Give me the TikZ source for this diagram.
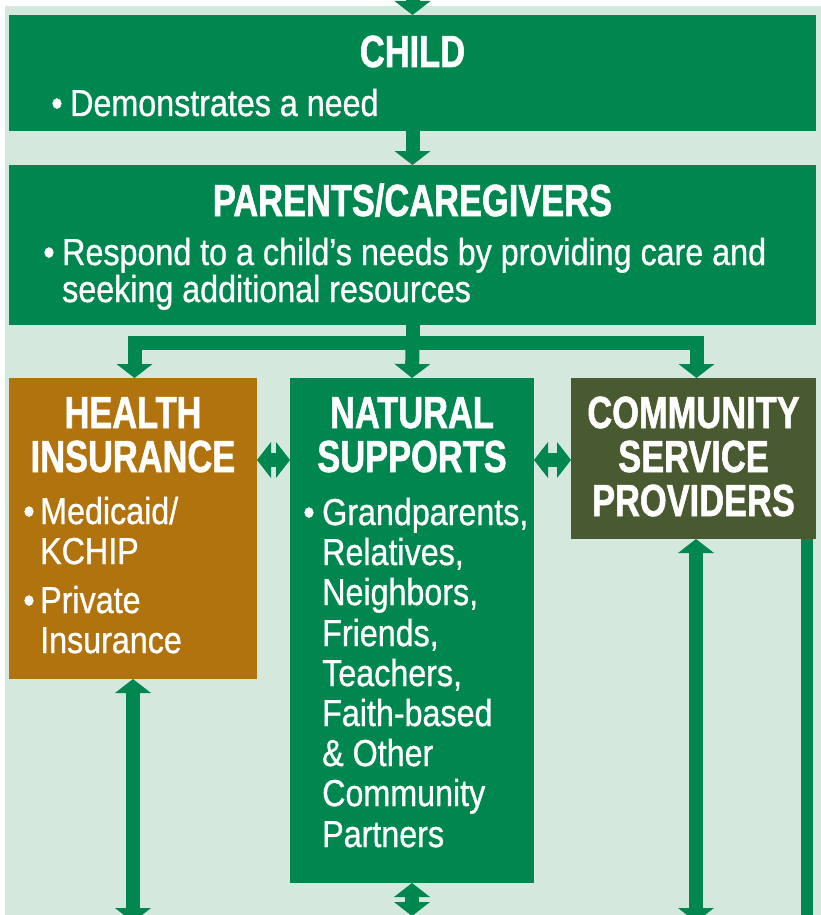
\documentclass[tikz,border=0pt]{standalone}
\usepackage{fontspec}
\setmainfont{Liberation Sans}
\newfontfamily\ttlfont[FakeStretch=0.765,FakeBold=1.2]{Liberation Sans}
\newfontfamily\bdyfont[FakeStretch=0.86,FakeBold=0.8]{Liberation Sans}
\usetikzlibrary{arrows.meta}
\definecolor{bggreen}{RGB}{213,232,222}
\definecolor{boxgreen}{RGB}{0,135,80}
\definecolor{boxbrown}{RGB}{176,115,14}
\definecolor{boxolive}{RGB}{74,90,48}
\tikzset{
  box/.style={rectangle, inner sep=0pt, outer sep=0pt, anchor=north west},
  ttl/.style={text=white, font=\ttlfont\bfseries\fontsize{45}{45}\selectfont, inner sep=0pt, anchor=base},
  bdy/.style={text=white, font=\bdyfont\fontsize{37.5}{40}\selectfont, inner sep=0pt, anchor=base west},
  blt/.style={text=white, font=\bdyfont\fontsize{37.5}{40}\selectfont, inner sep=0pt, anchor=base},
  conn/.style={draw=boxgreen, line width=14pt, line join=miter,
    >={Triangle[width=36pt,length=14pt,line width=0pt]}},
}
\begin{document}
\begin{tikzpicture}[x=1pt,y=-1pt]
\useasboundingbox (0,0) rectangle (821,915);
\clip (0,0) rectangle (821,915);
\fill[white] (0,0) rectangle (821,915);
\fill[bggreen] (5,6) rectangle (821,915);

% boxes
\node[box,fill=boxgreen,minimum width=807pt,minimum height=116pt] (child) at (9,15) {};
\node[box,fill=boxgreen,minimum width=807pt,minimum height=160pt] (parents) at (9,165) {};
\node[box,fill=boxbrown,minimum width=248pt,minimum height=301pt] (health) at (9,378) {};
\node[box,fill=boxgreen,minimum width=244pt,minimum height=505pt] (natural) at (290,378) {};
\node[box,fill=boxolive,minimum width=245pt,minimum height=161pt] (community) at (571,378) {};

% connectors
\coordinate (topin) at (412.5,-20);
\coordinate (j) at (412.5,343);
\coordinate (hb) at (133,922);
\coordinate (nb) at (412,916);
\coordinate (cb) at (696,922);
\coordinate (rb) at (807,922);
\draw[conn,->] (topin) -- (child.north);
\draw[conn,->] (child.south) -- (parents.north);
\draw[conn] (parents.south) -- (j);
\draw[conn,->] (j) -| ([xshift=1.5pt]health.north);
\draw[conn,->] (j) -- (natural.north);
\draw[conn,->] (j) -| ([xshift=3pt]community.north);
\draw[conn,<->] ([yshift=-82pt]health.north east) -- ([yshift=-82pt]natural.north west);
\draw[conn,<->] ([yshift=-82pt]natural.north east) -- ([yshift=-82pt]community.north west);
\draw[conn,<->] (health.south) -- (hb);
\draw[conn,<->] (natural.south) -- (nb);
\draw[conn,<->] ([xshift=2.5pt]community.south) -- (cb);
\draw[conn,line width=12pt] ([xshift=-9pt]community.south east) -- (rb);

% child text
\node[ttl] (childT) at (412.5,67) {CHILD};
\node[blt] (childD) at (57,116) {•};
\node[bdy] (childB) at (70,116) {Demonstrates a need};

% parents text
\node[ttl] (parT) at (412.5,216) {PARENTS/CAREGIVERS};
\node[blt] (parD) at (49,265) {•};
\node[bdy] (parB1) at (62,265) {Respond to a child’s needs by providing care and};
\node[bdy] (parB2) at (62,302) {seeking additional resources};

% health text
\node[ttl] (hT1) at (133,428) {HEALTH};
\node[ttl] (hT2) at (133,472) {INSURANCE};
\node[blt] (hD1) at (29,524) {•};
\node[bdy] (hB1) at (40,524) {Medicaid/};
\node[bdy] (hB2) at (40,564) {KCHIP};
\node[blt] (hD2) at (29,613) {•};
\node[bdy] (hB3) at (40,613) {Private};
\node[bdy] (hB4) at (40,653) {Insurance};

% natural text
\node[ttl] (nT1) at (412,428) {NATURAL};
\node[ttl] (nT2) at (412,472) {SUPPORTS};
\node[blt] (nD) at (309,525) {•};
\node[bdy] (nB1) at (322,525) {Grandparents,};
\node[bdy] (nB2) at (322,565) {Relatives,};
\node[bdy] (nB3) at (322,605) {Neighbors,};
\node[bdy] (nB4) at (322,646) {Friends,};
\node[bdy] (nB5) at (322,686) {Teachers,};
\node[bdy] (nB6) at (322,726) {Faith-based};
\node[bdy] (nB7) at (322,766) {\& Other};
\node[bdy] (nB8) at (322,806) {Community};
\node[bdy] (nB9) at (322,847) {Partners};

% community text
\node[ttl] (cT1) at (693.5,428) {COMMUNITY};
\node[ttl] (cT2) at (693.5,472) {SERVICE};
\node[ttl] (cT3) at (693.5,516) {PROVIDERS};
\end{tikzpicture}
\end{document}
